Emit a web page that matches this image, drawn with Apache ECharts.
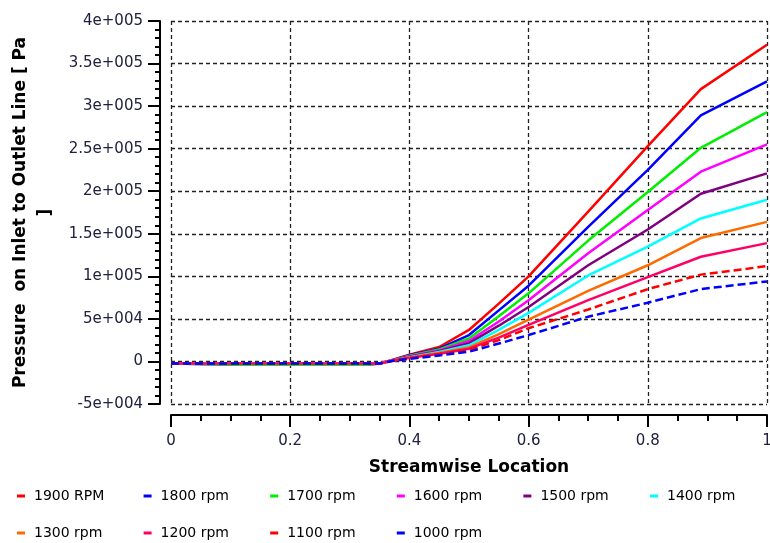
<!DOCTYPE html>
<html>
<head>
<meta charset="utf-8">
<script src="https://cdn.jsdelivr.net/npm/echarts@6/dist/echarts.min.js"></script>
<style>
  html, body { margin: 0; padding: 0; background: #ffffff; }
  #chart { width: 770px; height: 543px; }
</style>
</head>
<body>
<div id="chart"></div>
<script>
// Streamwise sample locations (0 = inlet, 1 = outlet)
const streamwise = [0, 0.11, 0.33, 0.35, 0.37, 0.4, 0.45, 0.5, 0.55, 0.6, 0.7, 0.8, 0.889, 1];

// Pressure along the inlet-to-outlet line [Pa], one list per rotor speed
const p1900 = [-2500, -2500, -2500, -2500, 1500, 8000, 17000, 37000, 68000, 100000, 176000, 253000, 320000, 372000];
const p1800 = [-2500, -4000, -4000, -2500, 1300, 7200, 15000, 31000, 60000, 89000, 158000, 225000, 289000, 329000];
const p1700 = [-2500, -4000, -4000, -2500, 1200, 6600, 14000, 27000, 53000, 80000, 142000, 199000, 251000, 293000];
const p1600 = [-2500, -2500, -2500, -2500, 1100, 6000, 13000, 24000, 47000, 72000, 127000, 178000, 223000, 255000];
const p1500 = [-2500, -2500, -2500, -2500, 1000, 5500, 12000, 21500, 42000, 64000, 113000, 155000, 197000, 221000];
const p1400 = [-2500, -2500, -2500, -2500, 900, 5000, 11000, 19000, 37000, 57000, 101000, 135000, 168000, 190000];
const p1300 = [-2500, -2500, -2500, -2500, 800, 4600, 10000, 16500, 32000, 49000, 83000, 113000, 145000, 164000];
const p1200 = [-2500, -2500, -2500, -2500, 700, 4200, 9000, 15000, 28000, 43000, 72000, 99000, 123000, 139000];
const p1100 = [-2500, -2500, -2500, -2500, 600, 3800, 8500, 13500, 25000, 39000, 61000, 85000, 102000, 112000];
const p1000 = [-2500, -2500, -2500, -2500, 400, 3000, 7000, 11500, 21000, 31000, 52600, 69000, 85000, 94000];

const seriesNames = ['1900 RPM', '1800 rpm', '1700 rpm', '1600 rpm', '1500 rpm',
                     '1400 rpm', '1300 rpm', '1200 rpm', '1100 rpm', '1000 rpm'];
const seriesValues = [p1900, p1800, p1700, p1600, p1500, p1400, p1300, p1200, p1100, p1000];
const seriesColors = ['#ff0000', '#0000ff', '#00ee00', '#ff00ff', '#800080',
                      '#00ffff', '#ff6a00', '#ff0066', '#ff0000', '#0000ff'];
const seriesDashed = [false, false, false, false, false, false, false, false, true, true];

// Axis tick labels
const xTickLabels = ['0', '0.2', '0.4', '0.6', '0.8', '1'];
const yTickLabels = ['-5e+004', '0', '5e+004', '1e+005', '1.5e+005', '2e+005',
                     '2.5e+005', '3e+005', '3.5e+005', '4e+005'];

const FONT = 'DejaVu Sans';
const tickColor = '#202040';

const series = seriesNames.map((name, i) => ({
  name: name,
  type: 'line',
  symbol: 'none',
  color: seriesColors[i],
  lineStyle: {
    width: 2.5,
    color: seriesColors[i],
    type: seriesDashed[i] ? [8, 4] : 'solid'
  },
  data: streamwise.map((x, k) => [x, seriesValues[i][k]])
}));

// One legend block per entry so that entries sit in fixed columns
const legends = seriesNames.map((name, i) => ({
  data: [name],
  left: 17 + (i % 6) * 126.6,
  top: i < 6 ? 489 : 526,
  padding: 0,
  icon: 'rect',
  itemWidth: 8,
  itemHeight: 3,
  selectedMode: false,
  textStyle: { fontFamily: FONT, fontSize: 14, color: '#000', padding: [0, 0, 0, 4] }
}));

const chart = echarts.init(document.getElementById('chart'), null, { renderer: 'canvas' });
chart.setOption({
  animation: false,
  backgroundColor: '#ffffff',
  grid: { left: 171, right: 3, top: 21, bottom: 139, containLabel: false, outerBoundsMode: 'none' },
  legend: legends,
  xAxis: {
    type: 'value',
    min: 0, max: 1, interval: 0.2,
    offset: 11,
    name: 'Streamwise Location',
    nameLocation: 'middle',
    nameGap: 44,
    nameTextStyle: { fontFamily: FONT, fontSize: 17, fontWeight: 'bold', color: '#000' },
    axisLine: { show: true, onZero: false, lineStyle: { color: '#000', width: 2 } },
    axisTick: { show: true, length: 12, lineStyle: { color: '#000', width: 2 } },
    minorTick: { show: true, splitNumber: 4, length: 6, lineStyle: { color: '#000', width: 2 } },
    axisLabel: {
      fontFamily: FONT, fontSize: 15, color: tickColor, margin: 19,
      formatter: (v) => xTickLabels[Math.round(v / 0.2)]
    },
    splitLine: { show: true, lineStyle: { color: '#222', width: 1.3, type: [4, 3] } }
  },
  yAxis: {
    type: 'value',
    min: -50000, max: 400000, interval: 50000,
    offset: 11,
    name: 'Pressure  on Inlet to Outlet Line [ Pa\n]',
    nameLocation: 'middle',
    nameRotate: 90,
    nameGap: 101,
    nameTextStyle: { fontFamily: FONT, fontSize: 17, fontWeight: 'bold', color: '#000', lineHeight: 25, align: 'center' },
    axisLine: { show: true, onZero: false, lineStyle: { color: '#000', width: 2 } },
    axisTick: { show: true, length: 12, lineStyle: { color: '#000', width: 2 } },
    minorTick: { show: true, splitNumber: 5, length: 5, lineStyle: { color: '#000', width: 2 } },
    axisLabel: {
      fontFamily: FONT, fontSize: 15, color: tickColor, margin: 17,
      formatter: (v) => yTickLabels[Math.round((v + 50000) / 50000)]
    },
    splitLine: { show: true, lineStyle: { color: '#222', width: 1.3, type: [4, 3] } }
  },
  series: series
});
</script>
</body>
</html>
